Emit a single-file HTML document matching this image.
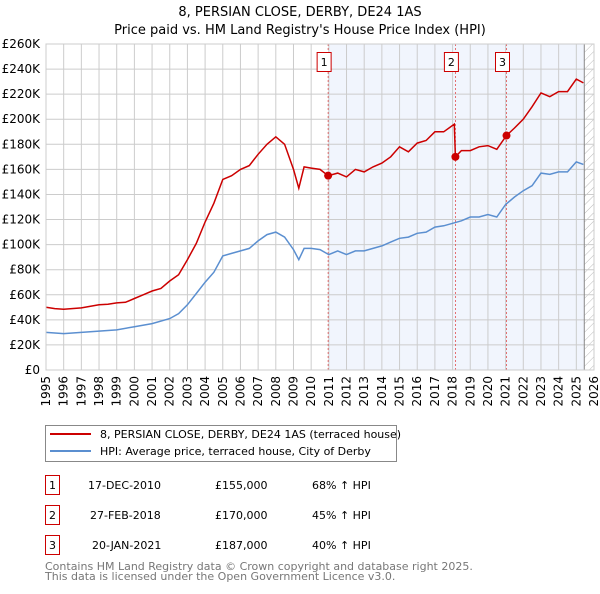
<!DOCTYPE html>
<html><head><meta charset="utf-8"><style>
body{margin:0;background:#fff;font-family:"DejaVu Sans","Liberation Sans",sans-serif;}
svg text{font-family:"DejaVu Sans","Liberation Sans",sans-serif;}
</style></head><body>
<svg id="c" width="600" height="590" xmlns="http://www.w3.org/2000/svg">
<defs><pattern id="hatch" width="6" height="6" patternUnits="userSpaceOnUse" patternTransform="rotate(45)"><line x1="0" y1="0" x2="0" y2="6" stroke="#bbb" stroke-width="1"/></pattern></defs>
<text x="300" y="16" text-anchor="middle" font-size="13">8, PERSIAN CLOSE, DERBY, DE24 1AS</text>
<text x="300" y="34" text-anchor="middle" font-size="13">Price paid vs. HM Land Registry's House Price Index (HPI)</text>
<g id="plot"></g>
<g>
<rect x="45.5" y="425.5" width="351" height="36" fill="#fff" stroke="#888"/>
<line x1="50" y1="434" x2="91" y2="434" stroke="#cc0000" stroke-width="2"/>
<text x="100" y="438" font-size="11">8, PERSIAN CLOSE, DERBY, DE24 1AS (terraced house)</text>
<line x1="50" y1="451" x2="91" y2="451" stroke="#5b8fd0" stroke-width="2"/>
<text x="100" y="455" font-size="11">HPI: Average price, terraced house, City of Derby</text>
</g>
<g font-size="11">
<rect x="45.5" y="475.5" width="14" height="19" fill="#fff" stroke="#cc0000"/><text x="52.5" y="489" text-anchor="middle">1</text>
<text x="88" y="489">17-DEC-2010</text><text x="215" y="489">£155,000</text><text x="312" y="489">68% ↑ HPI</text>
<rect x="45.5" y="505.5" width="14" height="19" fill="#fff" stroke="#cc0000"/><text x="52.5" y="519" text-anchor="middle">2</text>
<text x="90" y="519">27-FEB-2018</text><text x="215" y="519">£170,000</text><text x="312" y="519">45% ↑ HPI</text>
<rect x="45.5" y="535.5" width="14" height="19" fill="#fff" stroke="#cc0000"/><text x="52.5" y="549" text-anchor="middle">3</text>
<text x="92" y="549">20-JAN-2021</text><text x="215" y="549">£187,000</text><text x="312" y="549">40% ↑ HPI</text>
</g>
<text x="45" y="570" font-size="11" fill="#777">Contains HM Land Registry data © Crown copyright and database right 2025.</text>
<text x="45" y="580" font-size="11" fill="#777">This data is licensed under the Open Government Licence v3.0.</text>
</svg>
<script>
const hpiYears=[1995,1996,1997,1998,1999,2000,2001,2002,2002.5,2003,2003.5,2004,2004.5,2005,2005.5,2006,2006.5,2007,2007.5,2008,2008.5,2009,2009.3,2009.6,2010,2010.5,2011,2011.5,2012,2012.5,2013,2013.5,2014,2014.5,2015,2015.5,2016,2016.5,2017,2017.5,2018,2018.5,2019,2019.5,2020,2020.5,2021,2021.5,2022,2022.5,2023,2023.5,2024,2024.5,2025,2025.4];
const hpiValues=[30,29,30,31,32,34.5,37,41,45,52,61,70,78,91,93,95,97,103,108,110,106,96,88,97,97,96,92,95,92,95,95,97,99,102,105,106,109,110,114,115,117,119,122,122,124,122,132,138,143,147,157,156,158,158,166,164];
const priceYears=[1995,1995.5,1996,1997,1998,1998.5,1999,1999.5,2000,2000.5,2001,2001.5,2002,2002.5,2003,2003.5,2004,2004.5,2005,2005.5,2006,2006.5,2007,2007.5,2008,2008.5,2009,2009.3,2009.6,2010,2010.5,2010.96,2011.5,2012,2012.5,2013,2013.5,2014,2014.5,2015,2015.5,2016,2016.5,2017,2017.5,2018.1,2018.16,2018.5,2019,2019.5,2020,2020.5,2021.05,2021.5,2022,2022.5,2023,2023.5,2024,2024.5,2025,2025.4];
const priceValues=[50,49,48.5,49.5,52,52.5,53.5,54,57,60,63,65,71,76,88,101,118,133,152,155,160,163,172,180,186,180,160,145,162,161,160,155,157,154,160,158,162,165,170,178,174,181,183,190,190,196,170,175,175,178,179,176,187,193,200,210,221,218,222,222,232,229];
const saleYears=[2010.96,2018.16,2021.05];
const saleValues=[155,170,187];
const saleLabels=["1","2","3"];
const yTicks=[0,20,40,60,80,100,120,140,160,180,200,220,240,260];
const xTicks=[1995,1996,1997,1998,1999,2000,2001,2002,2003,2004,2005,2006,2007,2008,2009,2010,2011,2012,2013,2014,2015,2016,2017,2018,2019,2020,2021,2022,2023,2024,2025,2026];
const X0=46,X1=594,Y0=370,Y1=44;
const xs=y=>X0+(y-1995)/31*(X1-X0);
const ys=v=>Y0-v/260*(Y0-Y1);
const NS="http://www.w3.org/2000/svg";
const g=document.getElementById('plot');
function mk(t,a,p){const e=document.createElementNS(NS,t);for(const k in a)e.setAttribute(k,a[k]);(p||g).appendChild(e);return e;}
mk('rect',{x:X0,y:Y1,width:X1-X0,height:Y0-Y1,fill:'#fff'});
const sh=mk('rect',{x:xs(2010.96),y:Y1,width:xs(2025.45)-xs(2010.96),height:Y0-Y1,fill:'#eef3fc',opacity:0.8});


const ht=mk('rect',{x:xs(2025.45),y:Y1,width:X1-xs(2025.45),height:Y0-Y1,fill:'url(#hatch)'});


yTicks.forEach(v=>{
 const l=mk('line',{x1:X0,x2:X1,y1:ys(v),y2:ys(v),stroke:'#ccc'});
 
 
 const t=mk('text',{x:X0-6,y:ys(v)+4,'text-anchor':'end','font-size':12});
 
 
 t.textContent=v===0?'£0':'£'+v+'K';
});
xTicks.forEach(y=>{
 const l=mk('line',{x1:xs(y),x2:xs(y),y1:Y1,y2:Y0,stroke:'#ccc'});
 
 
 const t=mk('text',{transform:`translate(${xs(y)+4},${Y0+6}) rotate(-90)`,'text-anchor':'end','font-size':12});
 
 
 t.textContent=y;
});
mk('line',{x1:xs(2025.45),x2:xs(2025.45),y1:Y1,y2:Y0,stroke:'#888'});
saleYears.forEach((y,i)=>{
 const l=mk('line',{x1:xs(y),x2:xs(y),y1:Y1,y2:Y0,stroke:'#e05050','stroke-dasharray':'2,2','stroke-width':0.8});
 
 
 const b=mk('rect',{x:xs(y)-11,y:52.5,width:14,height:19,fill:'#fff',stroke:'#cc0000'});
 
 
 const t=mk('text',{x:xs(y)-4,y:66,'text-anchor':'middle','font-size':11});
 t.textContent=saleLabels[i];
});
const path=(xa,va)=>xa.map((x,i)=>(i?'L':'M')+xs(x).toFixed(1)+','+ys(va[i]).toFixed(1)).join('');
const hp=mk('path',{d:path(hpiYears,hpiValues),fill:'none',stroke:'#5b8fd0','stroke-width':1.5});


const pp=mk('path',{d:path(priceYears,priceValues),fill:'none',stroke:'#cc0000','stroke-width':1.5});


saleYears.forEach((y,i)=>{
 const c=mk('circle',{cx:xs(y),cy:ys(saleValues[i]),r:4,fill:'#cc0000'});
 
 
});
mk('rect',{x:X0,y:Y1,width:X1-X0,height:Y0-Y1,fill:'none',stroke:'#ccc'});
</script>
</body></html>
